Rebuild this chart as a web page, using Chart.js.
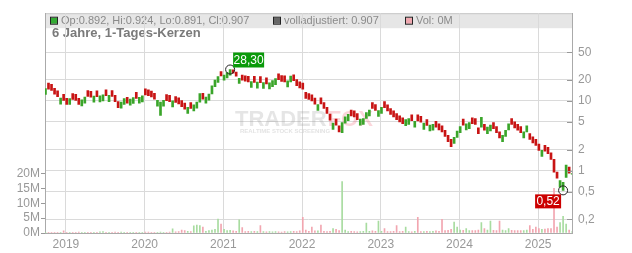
<!DOCTYPE html>
<html lang="de">
<head>
<meta charset="UTF-8">
<title>Kursverlauf 6 Jahre</title>
<script src="https://cdn.jsdelivr.net/npm/chart.js"></script>
<style>
  body { margin: 0; background: #fff; }
  #wrap { width: 632px; height: 253px; }
</style>
</head>
<body>
<div id="wrap"><canvas id="kurs" width="632" height="253"></canvas></div>
<script>
// Kerzen alle zwei Wochen
var firstBarYear = 2018.74;
var barStepYears = 1 / 26;

var opens = [
  12.4, 18.0, 17.3, 15.2, 14.0, 9.0, 12.4, 10.9, 8.9, 12.8,
  12.4, 10.9, 8.5, 9.3, 14.1, 13.8, 9.6, 14.0, 9.7, 10.0,
  14.5, 9.8, 14.1, 12.0, 9.8, 7.9, 8.9, 11.3, 8.7, 9.2,
  13.3, 9.3, 9.7, 14.9, 14.5, 13.9, 12.9, 8.4, 6.2, 8.4,
  12.3, 12.0, 8.2, 11.6, 11.1, 10.1, 9.3, 6.6, 9.5, 7.2,
  7.9, 9.6, 12.9, 9.3, 10.3, 12.6, 16.0, 18.5, 26.5, 19.8,
  21.5, 23.5, 28.0, 26.0, 17.8, 23.5, 23.0, 22.5, 15.6, 22.5,
  15.3, 22.3, 15.1, 21.5, 14.9, 16.1, 17.2, 24.6, 23.2, 22.9,
  15.9, 18.7, 23.8, 20.3, 18.8, 18.0, 13.3, 12.8, 12.2, 11.0,
  7.3, 11.1, 9.5, 8.1, 6.5, 3.9, 5.5, 4.4, 3.5, 4.8,
  5.2, 7.4, 7.2, 6.6, 4.5, 4.6, 5.6, 6.1, 9.5, 8.9,
  6.0, 6.6, 9.8, 8.8, 7.8, 7.2, 6.6, 6.1, 5.7, 4.4,
  4.6, 6.3, 4.2, 6.3, 6.0, 3.9, 5.4, 3.7, 3.8, 5.1,
  4.7, 4.4, 3.8, 3.2, 2.8, 2.45, 3.0, 3.5, 5.5, 3.85,
  4.0, 5.7, 5.6, 4.1, 4.2, 4.6, 3.4, 3.7, 4.9, 4.3,
  3.6, 2.6, 3.1, 3.85, 5.6, 5.0, 4.6, 4.3, 2.95, 3.6,
  3.4, 3.05, 2.8, 2.4, 1.6, 2.3, 2.15, 1.8, 1.45, 0.95,
  0.58, 0.52, 0.8, 1.12, 0.892
];
var closes = [
  15.1, 14.8, 14.2, 12.5, 11.5, 11.0, 10.2, 8.9, 10.8, 10.5,
  10.2, 8.9, 10.4, 11.4, 11.6, 11.3, 11.7, 11.5, 11.8, 12.2,
  11.9, 12.0, 11.6, 9.8, 8.0, 9.6, 10.8, 9.3, 10.6, 11.2,
  10.9, 11.3, 11.8, 12.2, 11.9, 11.4, 10.6, 10.2, 9.6, 10.2,
  10.1, 9.8, 10.0, 9.5, 9.1, 8.3, 7.6, 8.1, 7.8, 8.8,
  9.6, 12.8, 10.6, 11.4, 12.6, 16.5, 20.0, 22.3, 22.8, 23.6,
  25.5, 28.3, 25.0, 22.6, 21.2, 19.8, 19.2, 18.8, 19.0, 18.5,
  18.6, 18.3, 18.4, 17.6, 18.2, 19.6, 21.0, 20.2, 19.0, 18.8,
  19.4, 22.8, 19.5, 16.6, 15.4, 14.8, 10.9, 10.5, 10.0, 9.0,
  8.9, 9.1, 7.8, 6.6, 5.3, 4.8, 4.5, 3.6, 4.9, 5.9,
  6.4, 6.1, 5.9, 5.4, 5.5, 5.6, 6.8, 7.4, 7.8, 7.3,
  7.3, 8.1, 8.0, 7.2, 6.4, 5.9, 5.4, 5.0, 4.7, 5.4,
  5.6, 5.2, 5.1, 5.15, 4.95, 4.8, 4.45, 4.5, 4.6, 4.2,
  3.85, 3.6, 3.1, 2.6, 2.2, 3.0, 3.7, 4.3, 4.5, 4.7,
  4.9, 4.7, 4.6, 3.4, 5.8, 3.8, 4.2, 4.5, 4.0, 3.5,
  2.95, 3.2, 3.8, 4.7, 4.6, 4.1, 3.8, 3.5, 3.6, 4.4,
  2.8, 2.5, 2.3, 1.95, 1.95, 1.9, 1.75, 1.45, 0.95, 0.78,
  0.72, 0.68, 1.2, 0.92, 0.907
];
// Volumen in Mio. Stueck
var volumes = [
  0.1, 0.1, 0.1, 0.1, 0.1, 0.1, 0.75, 0.05, 0.05, 0.05,
  0.05, 0.3, 0.05, 0.05, 0.05, 0.05, 0.05, 0.1, 0.4, 0.5,
  0.1, 0.1, 0.1, 0.3, 0.1, 0.3, 0.1, 0.1, 0.1, 0.1,
  0.1, 0.1, 0.1, 0.3, 0.3, 0.1, 0.1, 0.1, 0.3, 0.2,
  0.2, 0.3, 1.4, 0.4, 0.5, 1.0, 0.8, 0.6, 0.5, 2.4,
  2.7, 2.5, 2.0, 0.6, 0.8, 1.0, 1.2, 4.7, 3.0, 1.2,
  0.8, 0.9, 0.7, 0.6, 4.4, 1.8, 0.5, 0.6, 0.5, 0.6,
  0.5, 2.5, 0.5, 0.4, 0.5, 0.4, 0.5, 0.4, 0.3, 0.5,
  0.4, 0.5, 0.6, 0.5, 0.7, 5.3, 1.0, 0.6, 2.0, 0.7,
  0.7, 2.7, 0.6, 0.5, 0.6, 1.5, 1.2, 0.8, 17.3, 1.0,
  0.5, 0.6, 0.5, 0.4, 0.5, 0.6, 3.3, 0.6, 0.7, 0.6,
  4.0, 0.6, 1.5, 0.5, 0.5, 0.6, 2.5, 0.5, 0.6, 2.0,
  0.5, 0.4, 0.6, 5.3, 0.5, 0.5, 0.6, 0.5, 0.6, 0.7,
  0.6, 4.6, 0.8, 0.9, 1.2, 3.7, 2.0, 1.0, 0.9, 1.5,
  0.8, 0.8, 0.8, 1.0, 3.5, 1.5, 1.0, 4.0, 0.9, 0.8,
  4.0, 1.0, 0.8, 1.5, 0.9, 0.8, 0.8, 0.8, 0.8, 1.0,
  2.5, 1.2, 2.0, 1.5, 1.2, 1.3, 1.5, 1.5, 15.0, 2.0,
  3.5, 5.6, 3.0, 1.0, 0.5
];

var yearTicks = [2019, 2020, 2021, 2022, 2023, 2024, 2025];
var priceTicks = [0.2, 0.5, 1, 2, 5, 10, 20, 50];
var volTicks = [0, 5, 10, 15, 20];

// Hoch / Tief Markierungen
var extremeIndex = [61, 171];
var extremeValues = [28.30, 0.52];
var extremeLabels = ['28,30', '0,52'];

var headerItems = [
  { x: 51, color: '#33aa33', text: 'Op:0.892, Hi:0.924, Lo:0.891, Cl:0.907' },
  { x: 274, color: '#666666', text: 'volladjustiert: 0.907' },
  { x: 406, color: '#f0a8b0', text: 'Vol: 0M' }
];

var candleData = [], candleColors = [], volData = [], volColors = [];
for (var i = 0; i < closes.length; i++) {
  var x = firstBarYear + i * barStepYears;
  var up = closes[i] >= opens[i];
  candleData.push({ x: x, y: [opens[i], closes[i]] });
  candleColors.push(up ? '#3aa52a' : '#c81414');
  volData.push({ x: x, y: volumes[i] });
  volColors.push(up ? '#a8dca0' : '#f2a6b0');
}

var fontFam = '"Liberation Sans", Arial, sans-serif';
Chart.defaults.font.family = fontFam;

var rahmen = {
  id: 'rahmen',
  beforeDraw: function (chart) {
    var c = chart.ctx, a = chart.chartArea;
    c.save();
    c.fillStyle = '#e6e6e6';
    c.fillRect(a.left, a.top, a.right - a.left, 15);
    c.strokeStyle = '#c8c8c8';
    c.lineWidth = 1;
    c.beginPath();
    c.moveTo(a.left, a.top + 0.5);
    c.lineTo(a.right, a.top + 0.5);
    c.stroke();
    c.font = '11px ' + fontFam;
    c.textBaseline = 'middle';
    headerItems.forEach(function (it) {
      c.fillStyle = it.color;
      c.fillRect(it.x, a.top + 4.5, 6, 6);
      c.strokeStyle = '#222';
      c.strokeRect(it.x - 0.5, a.top + 4, 7, 7);
      c.fillStyle = '#8a8a8a';
      c.fillText(it.text, it.x + 10, a.top + 8);
    });
    c.font = 'bold 13px ' + fontFam;
    c.fillStyle = '#7a7a7a';
    c.fillText('6 Jahre, 1-Tages-Kerzen', 52, 33);
    c.restore();
  },
  beforeDatasetsDraw: function (chart) {
    var c = chart.ctx;
    c.save();
    c.textBaseline = 'alphabetic';
    c.font = 'bold 22px ' + fontFam;
    c.fillStyle = 'rgba(150,150,150,0.25)';
    c.fillText('TRADER', 235, 126);
    var w = c.measureText('TRADER').width;
    c.fillStyle = 'rgba(235,70,90,0.22)';
    c.fillText('FOX', 235 + w + 1, 126);
    c.font = 'bold 6px ' + fontFam;
    c.fillStyle = 'rgba(150,150,150,0.28)';
    c.fillText('REALTIME STOCK SCREENING', 240, 133);
    c.restore();
  },
  afterDraw: function (chart) {
    var c = chart.ctx, a = chart.chartArea;
    var xs = chart.scales.x, ps = chart.scales.price;
    c.save();
    // Striche an der rechten Achse
    c.strokeStyle = '#999';
    c.lineWidth = 1;
    priceTicks.forEach(function (v) {
      var y = Math.round(ps.getPixelForValue(v)) + 0.5;
      c.beginPath();
      c.moveTo(a.right - 5, y);
      c.lineTo(a.right, y);
      c.stroke();
    });
    c.font = '12px ' + fontFam;
    c.textAlign = 'center';
    c.textBaseline = 'middle';
    extremeIndex.forEach(function (idx, k) {
      var cx = xs.getPixelForValue(firstBarYear + idx * barStepYears);
      var cy = ps.getPixelForValue(extremeValues[k]);
      c.strokeStyle = '#222';
      c.beginPath();
      c.arc(cx, cy, 4.5, 0, Math.PI * 2);
      c.stroke();
      var bx, by, bw, bh;
      if (k === 0) {
        bw = 31; bh = 15; bx = cx + 3; by = cy - 17;
        c.fillStyle = '#0a9a0a';
      } else {
        bw = 26; bh = 14; bx = cx - 28; by = cy + 4;
        c.fillStyle = '#cc0000';
      }
      c.fillRect(bx, by, bw, bh);
      c.fillStyle = '#fff';
      c.fillText(extremeLabels[k], bx + bw / 2, by + bh / 2 + 0.5);
    });
    c.restore();
  }
};

var ctx = document.getElementById('kurs').getContext('2d');
new Chart(ctx, {
  type: 'bar',
  data: {
    datasets: [
      {
        label: 'Kurs',
        data: candleData,
        yAxisID: 'price',
        backgroundColor: candleColors,
        barThickness: 2,
        grouped: false,
        order: 1
      },
      {
        label: 'Vol',
        data: volData,
        yAxisID: 'vol',
        backgroundColor: volColors,
        barThickness: 1,
        grouped: false,
        order: 2
      }
    ]
  },
  options: {
    responsive: false,
    animation: false,
    layout: { padding: { top: 8, left: 0, right: 0, bottom: 0 } },
    plugins: { legend: { display: false }, tooltip: { enabled: false } },
    scales: {
      x: {
        type: 'linear',
        min: 2018.734,
        max: 2025.43,
        offset: false,
        grid: { offset: false, color: '#dadada', drawTicks: false },
        border: { color: '#aaa' },
        ticks: { padding: 4, color: '#999', font: { size: 12 }, callback: function (v) { return String(v); } },
        afterBuildTicks: function (s) { s.ticks = yearTicks.map(function (v) { return { value: v }; }); },
        afterFit: function (s) { s.height = 20; }
      },
      price: {
        type: 'logarithmic',
        position: 'right',
        min: 0.127,
        max: 182,
        grid: { color: '#dadada', drawTicks: false },
        border: { color: '#aaa' },
        ticks: { padding: 6, color: '#999', font: { size: 12 }, callback: function (v) { return String(v).replace('.', ','); } },
        afterBuildTicks: function (s) { s.ticks = priceTicks.map(function (v) { return { value: v }; }); },
        afterFit: function (s) { s.width = 60; }
      },
      vol: {
        type: 'linear',
        position: 'left',
        min: 0,
        max: 74,
        grid: { drawOnChartArea: false, tickLength: 4, tickColor: '#999' },
        border: { color: '#aaa' },
        ticks: { padding: 1, color: '#999', font: { size: 12 }, callback: function (v) { return v + 'M'; } },
        afterBuildTicks: function (s) { s.ticks = volTicks.map(function (v) { return { value: v }; }); },
        afterFit: function (s) { s.width = 45; }
      }
    }
  },
  plugins: [rahmen]
});
</script>
</body>
</html>
